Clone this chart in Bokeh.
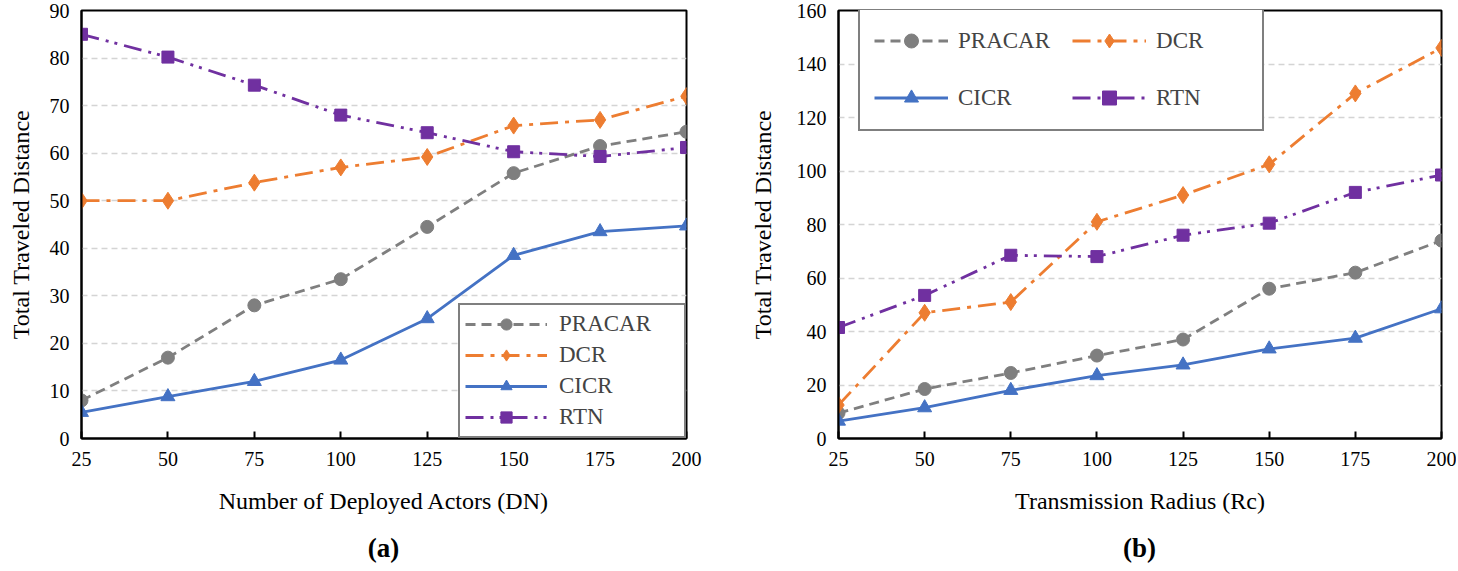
from bokeh.plotting import figure
from bokeh.models import Range1d, FixedTicker, Legend, LegendItem, Div
from bokeh.layouts import row, column
from bokeh.embed import file_html
from bokeh.resources import INLINE

x_vals = [25, 50, 75, 100, 125, 150, 175, 200]

# (a) Number of Deployed Actors
a_pracar = [8, 17, 28, 33.5, 44.5, 55.8, 61.5, 64.5]
a_dcr = [50, 50, 53.8, 57, 59.2, 65.8, 67, 72]
a_cicr = [5.5, 8.8, 12, 16.5, 25.2, 38.5, 43.5, 44.7]
a_rtn = [85, 80.2, 74.3, 68, 64.3, 60.3, 59.3, 61.2]

# (b) Transmission Radius
b_pracar = [9.5, 18.5, 24.5, 31, 37, 56, 62, 74]
b_dcr = [12.5, 47, 51, 81, 91, 102.5, 129, 146]
b_cicr = [6.5, 11.5, 18, 23.5, 27.5, 33.5, 37.5, 48.5]
b_rtn = [41.5, 53.5, 68.5, 68, 76, 80.5, 92, 98.5]

series_names = ["PRACAR", "DCR", "CICR", "RTN"]
colors = ["#7f7f7f", "#ed7d31", "#4472c4", "#7030a0"]
dashes = ["10 6", "18 7 4 7", "solid", "18 7 3 6 3 7"]
markers = ["circle", "diamond", "triangle", "square"]
msizes = [13, 17, 14, 12]

FONT = "Liberation Serif"


def make_fig(ys, ymax, ystep, xlabel, width, mb_left, mb_right, lbl_standoff):
    p = figure(width=width, height=528, output_backend="svg", toolbar_location=None,
               x_range=Range1d(25, 200), y_range=Range1d(0, ymax),
               min_border_left=mb_left, min_border_right=mb_right,
               min_border_top=10, min_border_bottom=90)
    p.outline_line_color = "black"
    p.outline_line_width = 2
    p.background_fill_color = "white"
    p.border_fill_color = "white"
    p.xgrid.visible = False
    p.ygrid.grid_line_color = "#d4d4d4"
    p.ygrid.grid_line_dash = "6 4"
    p.ygrid.grid_line_width = 1.5
    p.ygrid.ticker = FixedTicker(ticks=list(range(0, ymax + 1, ystep)))

    p.xaxis.ticker = FixedTicker(ticks=x_vals)
    p.yaxis.ticker = FixedTicker(ticks=list(range(0, ymax + 1, ystep)))
    for ax in (p.xaxis[0], p.yaxis[0]):
        ax.axis_line_color = "black"
        ax.axis_line_width = 2
        ax.major_label_text_font = FONT
        ax.major_label_text_font_size = "20px"
        ax.major_label_text_color = "black"
        ax.axis_label_text_font = FONT
        ax.axis_label_text_font_size = "24px"
        ax.axis_label_text_font_style = "normal"
        ax.axis_label_text_color = "black"
        ax.minor_tick_line_color = None
    p.xaxis.major_tick_in = 7
    p.xaxis.major_tick_out = 0
    p.xaxis.major_tick_line_color = "black"
    p.xaxis.major_tick_line_width = 2
    p.xaxis.major_label_standoff = 13
    p.xaxis.axis_label = xlabel
    p.xaxis.axis_label_standoff = 19
    p.yaxis.major_tick_in = 0
    p.yaxis.major_tick_out = 0
    p.yaxis.major_label_standoff = 12
    p.yaxis.axis_label = "Total Traveled Distance"
    p.yaxis.axis_label_standoff = lbl_standoff

    items = {}
    for name, y, c, d, m, s in zip(series_names, ys, colors, dashes, markers, msizes):
        lr = p.line(x_vals, y, line_color=c, line_width=2.8, line_dash=d)
        sr = p.scatter(x_vals, y, marker=m, size=s, fill_color=c, line_color=c)
        items[name] = LegendItem(label=name, renderers=[lr, sr])
    return p, items


p1, items1 = make_fig([a_pracar, a_dcr, a_cicr, a_rtn], 90, 10,
                      "Number of Deployed Actors (DN)", 745, 81, 59, 13)
leg1 = Legend(items=[items1[n] for n in series_names], location="bottom_right",
              margin=0, padding=5, spacing=3, glyph_width=82, glyph_height=28,
              label_height=28, label_width=120, label_standoff=12,
              label_text_font=FONT, label_text_font_size="23px",
              border_line_color="black", border_line_width=2,
              background_fill_alpha=1.0)
p1.add_layout(leg1)

p2, items2 = make_fig([b_pracar, b_dcr, b_cicr, b_rtn], 160, 20,
                      "Transmission Radius (Rc)", 711, 93, 15, 18)
leg2 = Legend(items=[items2[n] for n in ["PRACAR", "CICR", "DCR", "RTN"]],
              location=(20, 307), margin=0, padding=14,
              spacing=22, ncols=2, glyph_width=74, glyph_height=35, label_height=35,
              label_width=92, label_standoff=10,
              label_text_font=FONT, label_text_font_size="23px",
              border_line_color="black", border_line_width=2,
              background_fill_alpha=1.0)
p2.add_layout(leg2)

cap_style = {"text-align": "center", "font-family": "Liberation Serif",
             "font-size": "27px", "font-weight": "bold", "color": "black"}
d1 = Div(text="(a)", width=605, height=40, margin=(1, 59, 0, 81), styles=cap_style)
d2 = Div(text="(b)", width=603, height=40, margin=(1, 0, 0, 93), styles=cap_style)

layout = column(row(p1, p2), row(d1, d2))
open("out.html", "w").write(file_html(layout, INLINE))
